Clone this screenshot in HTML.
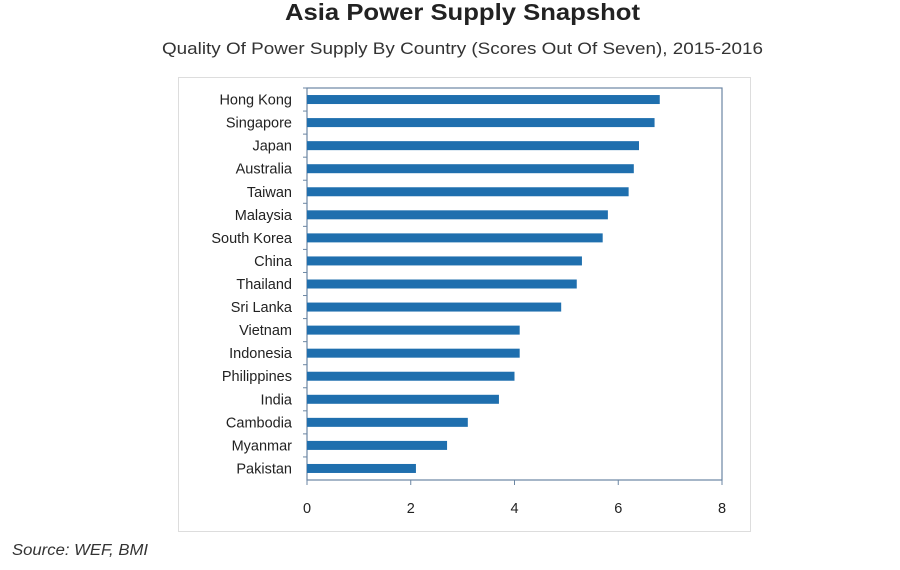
<!DOCTYPE html>
<html><head><meta charset="utf-8"><style>
body{margin:0;background:#fff;width:900px;height:565px;overflow:hidden;font-family:"Liberation Sans",sans-serif}
</style></head><body>
<svg width="900" height="565">
<text x="285" y="20" textLength="355" lengthAdjust="spacingAndGlyphs" font-size="23" font-weight="bold" fill="#222">Asia Power Supply Snapshot</text>
<text x="162" y="54" textLength="601" lengthAdjust="spacingAndGlyphs" font-size="16.5" fill="#333">Quality Of Power Supply By Country (Scores Out Of Seven), 2015-2016</text>
<rect x="178.5" y="77.5" width="572" height="454" fill="#fff" stroke="#ddd"/>
<g id="plot"></g>
<text x="12" y="555" textLength="136" lengthAdjust="spacingAndGlyphs" font-size="15.5" font-style="italic" fill="#333">Source: WEF, BMI</text>
</svg>
<script>
const categories=["Hong Kong","Singapore","Japan","Australia","Taiwan","Malaysia","South Korea","China","Thailand","Sri Lanka","Vietnam","Indonesia","Philippines","India","Cambodia","Myanmar","Pakistan"];
const values=[6.8,6.7,6.4,6.3,6.2,5.8,5.7,5.3,5.2,4.9,4.1,4.1,4.0,3.7,3.1,2.7,2.1];
const ticks=[0,2,4,6,8];
const NS="http://www.w3.org/2000/svg";
const L=307,R=722,T=88,B=480,maxV=8;
const x=v=>L+(R-L)*v/maxV;
const band=(B-T)/categories.length;
const y=i=>T+band*(i+0.5);
const g=document.getElementById('plot');
function mk(t,a){const e=document.createElementNS(NS,t);for(const k in a)e.setAttribute(k,a[k]);g.appendChild(e);return e;}
const box=mk('rect',{x:L,y:T,width:R-L,height:B-T,fill:'none',stroke:'#6b86a3','stroke-width':1.2});


categories.forEach((c,i)=>{
 const b=mk('rect',{x:L,y:y(i)-4.5,width:x(values[i])-L,height:9,fill:'#1f6fae'});
 
 
 const t=mk('text',{x:292,y:y(i)+5,'text-anchor':'end','font-size':14.5,fill:'#222'});
 t.textContent=c;
 
 
 const tk=mk('line',{x1:L-4,x2:L,y1:T+band*i,y2:T+band*i,stroke:'#6b86a3'});
 
 
});
ticks.forEach(v=>{
 const l=mk('line',{x1:x(v),x2:x(v),y1:B,y2:B+5,stroke:'#6b86a3'});
 
 
 const t=mk('text',{x:x(v),y:513,'text-anchor':'middle','font-size':14.5,fill:'#222'});
 t.textContent=v;
 
 
});
</script>
</body></html>
